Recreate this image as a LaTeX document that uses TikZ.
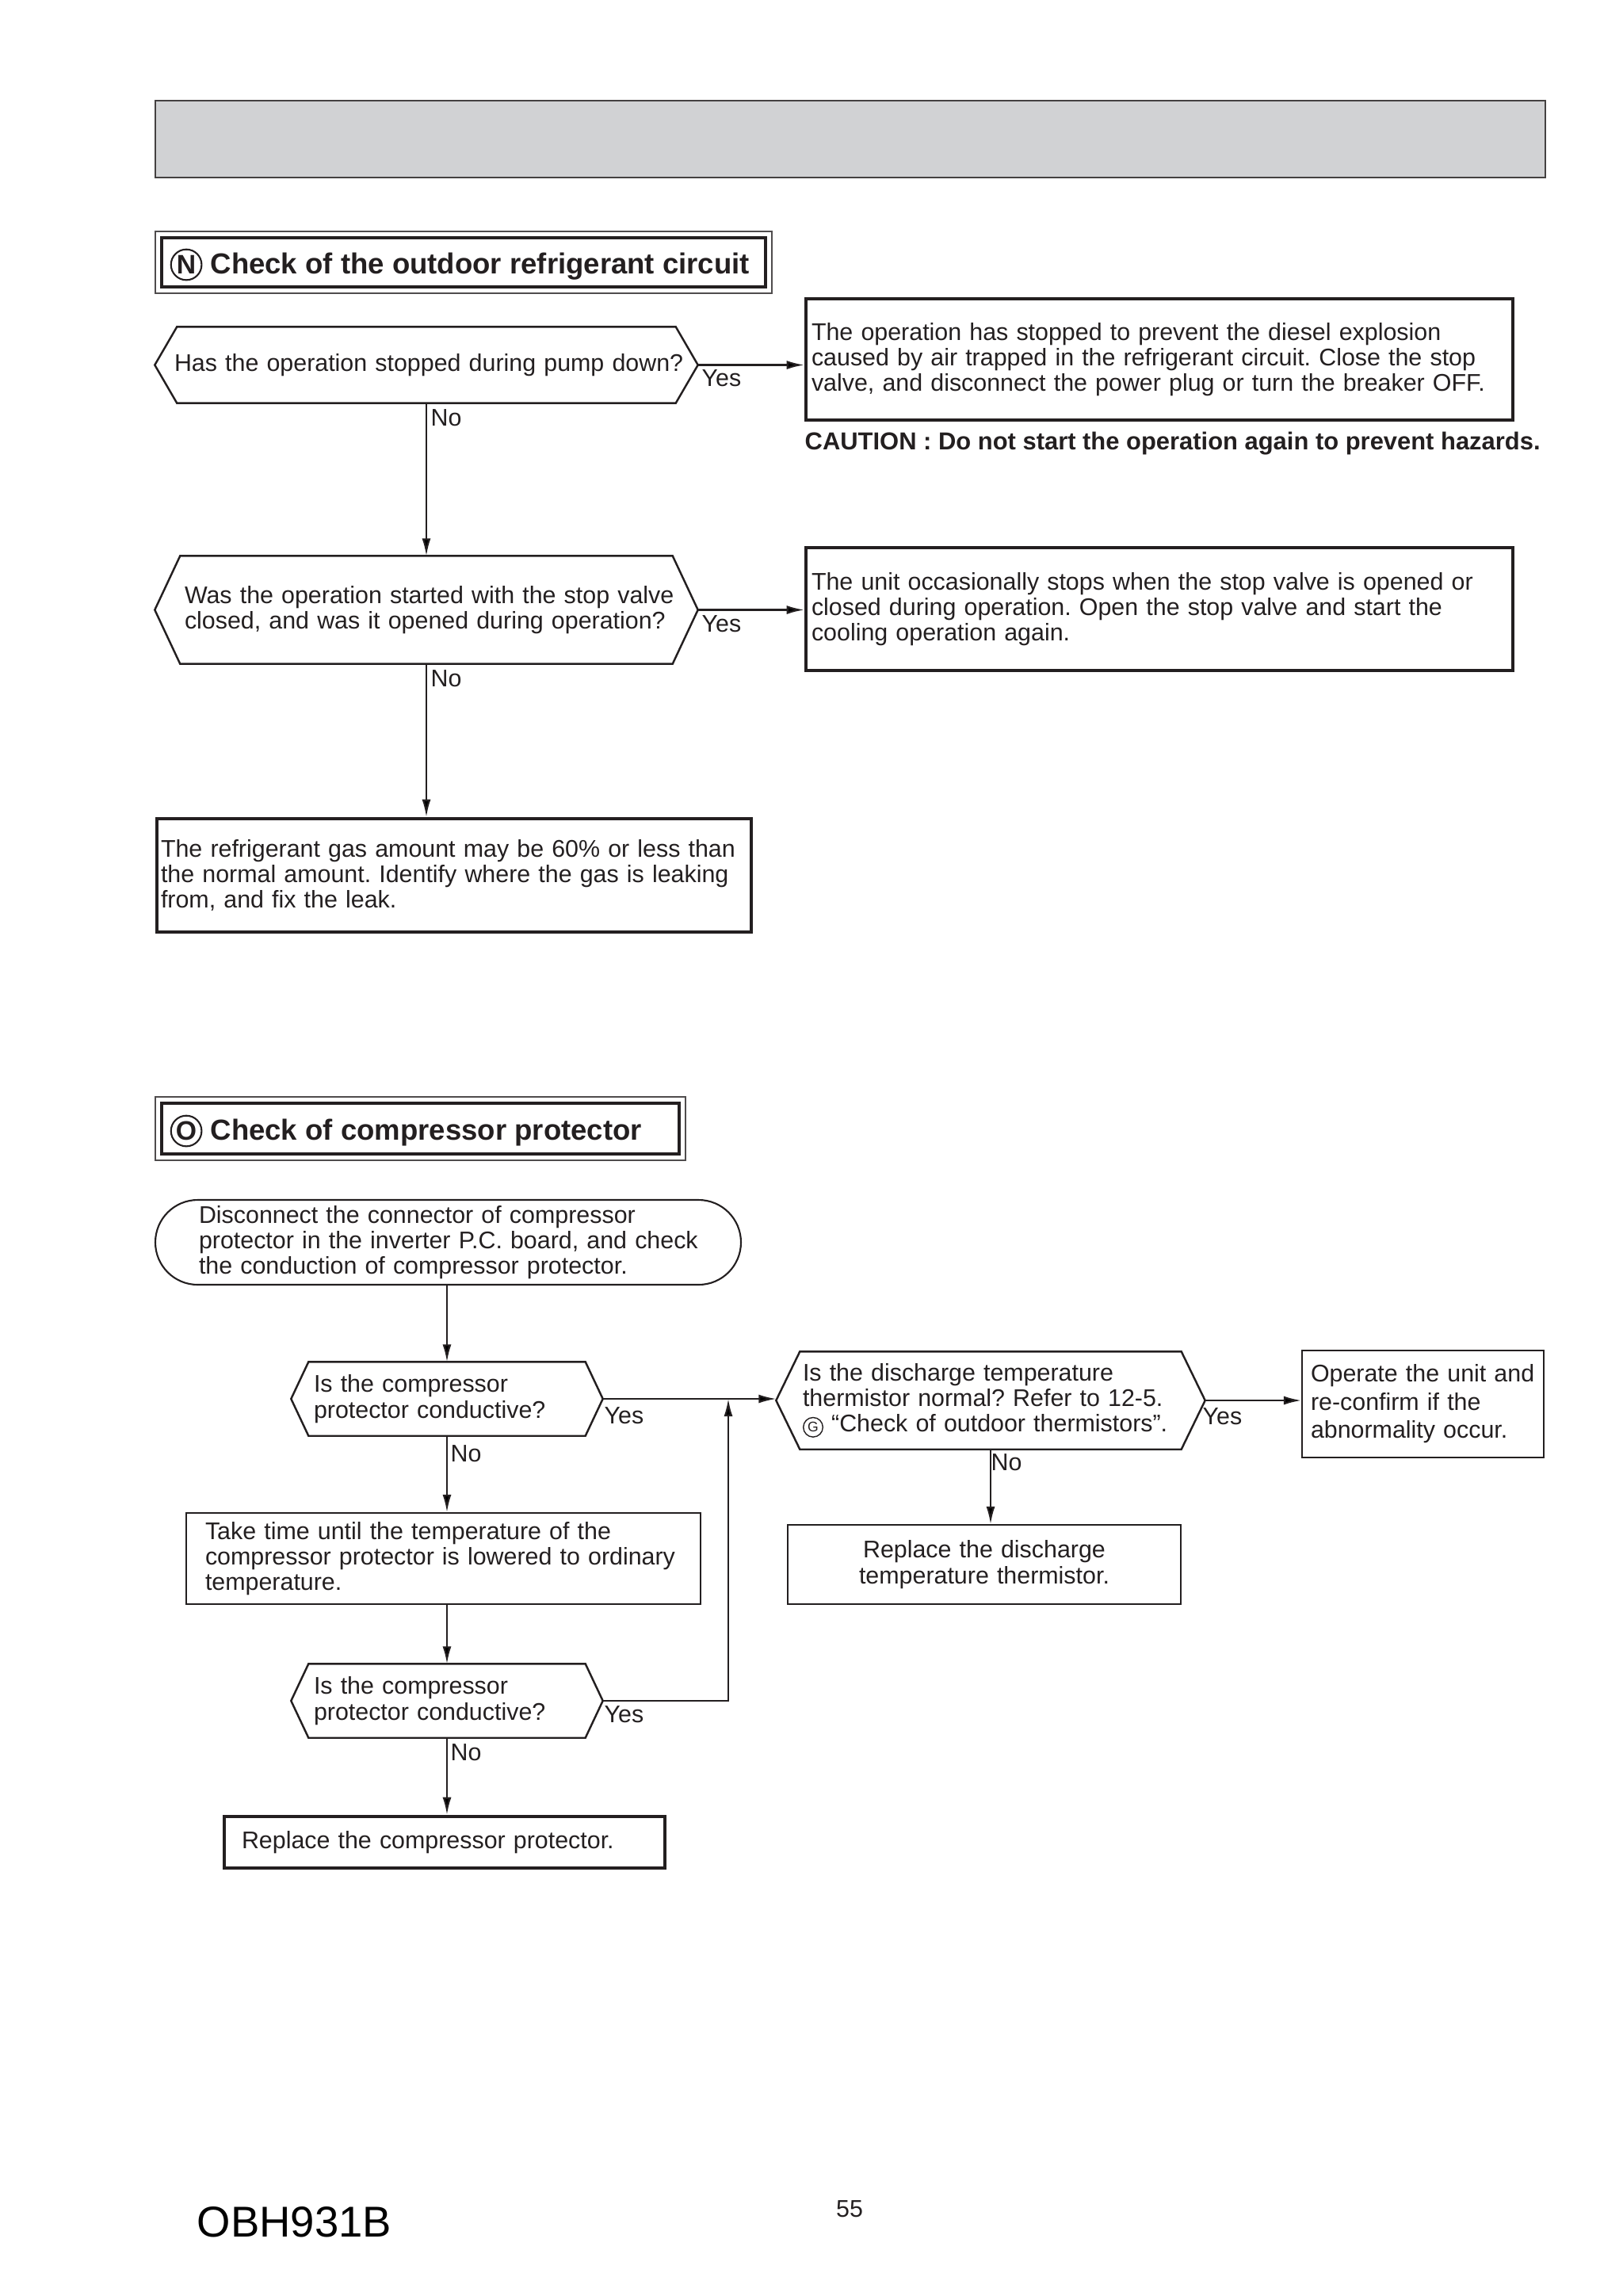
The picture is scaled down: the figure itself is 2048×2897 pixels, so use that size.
\documentclass[tikz,border=0pt]{standalone}
\usepackage{fontspec}
\setmainfont{Liberation Sans}
\usetikzlibrary{calc,arrows.meta,shapes.geometric}
\definecolor{barfill}{RGB}{209,210,212}
\definecolor{ink}{RGB}{35,31,32}
\newcommand\enclbig[1]{\tikz[baseline=(e.base)]\node[circle,draw=ink,line width=0.6pt,inner sep=0pt,minimum size=11pt,font=\fontsize{9.6}{9.6}\selectfont\bfseries](e){#1};}
\newcommand\enclsmall[1]{\tikz[baseline=(g.base)]\node[circle,draw=ink,line width=0.4pt,inner sep=0.2pt,minimum size=7pt,font=\fontsize{5}{5}\selectfont](g){#1};}
\newcommand\oneline[1]{\mbox{#1}}
\frenchspacing
\begin{document}
\begin{tikzpicture}[x=0.1mm,y=-0.1mm,
  every node/.append style={execute at begin node={\frenchspacing\hyphenpenalty=10000 }},
  txtN/.style={font=\fontsize{8.65}{9.0}\selectfont, text=ink},
  txtO/.style={font=\fontsize{8.65}{9.2}\selectfont, text=ink},
  hexbox/.style={draw=none, align=left, inner sep=0pt},
  hexline/.style={draw=ink, line width=0.7pt},
  box/.style={draw=ink, line width=0.6pt, align=left, inner sep=0pt},
  thickbox/.style={box, line width=1.3pt},
  conn/.style={draw=ink, line width=0.6pt},
  arr/.style={conn, -{Latex[length=2.2mm,width=1.1mm]}},
  lbl/.style={font=\fontsize{8.65}{10}\selectfont, text=ink, anchor=west, inner sep=0pt},
  titlebox/.style={draw=ink!80, line width=0.6pt, inner sep=0pt},
  titletext/.style={font=\fontsize{10.4}{12}\selectfont\bfseries, text=ink, anchor=west, inner sep=0pt}
]
\useasboundingbox (0,0) rectangle (2048,2897);

% header bar
\node[draw=ink!85, line width=0.8pt, fill=barfill, minimum width=175.4mm, minimum height=9.7mm, inner sep=0pt] (bar) at (1073,175.5) {};

% ---- section N ----
\node[titlebox, minimum width=77.8mm, minimum height=7.8mm] (tN) at (585,331) {};
\draw[draw=ink, line width=1pt] ($(tN.north west)+(9,9)$) rectangle ($(tN.south east)+(-9,-9)$);
\node[titletext] (tNt) at (214,334) {\enclbig{N} Check of the outdoor refrigerant circuit};

\node[hexbox, txtN, minimum width=68.4mm, minimum height=9.5mm, text width=63.6mm] (h1) at (538,460.5) {\oneline{Has the operation stopped during pump down?}};
\draw[hexline] (h1.west) -- ($(h1.north west)+(28,0)$) -- ($(h1.north east)+(-28,0)$) -- (h1.east) -- ($(h1.south east)+(-28,0)$) -- ($(h1.south west)+(28,0)$) -- cycle;

\node[thickbox, txtN, minimum width=89.2mm, minimum height=15.3mm, text width=87.8mm] (b1) at (1463,453.5) {\oneline{The operation has stopped to prevent the diesel explosion}\\\oneline{caused by air trapped in the refrigerant circuit. Close the stop}\\\oneline{valve, and disconnect the power plug or turn the breaker OFF.}};
\node[lbl, font=\fontsize{8.8}{10}\selectfont\bfseries] (cau) at (1015,560) {CAUTION : Do not start the operation again to prevent hazards.};

\node[hexbox, txtN, minimum width=68.4mm, minimum height=13.5mm, text width=61.0mm] (h2) at (538,769.5) {\oneline{Was the operation started with the stop valve}\\\oneline{closed, and was it opened during operation?}};
\draw[hexline] (h2.west) -- ($(h2.north west)+(32,0)$) -- ($(h2.north east)+(-32,0)$) -- (h2.east) -- ($(h2.south east)+(-32,0)$) -- ($(h2.south west)+(32,0)$) -- cycle;

\node[thickbox, txtN, minimum width=89.2mm, minimum height=15.5mm, text width=87.8mm] (b2) at (1463,768.5) {\oneline{The unit occasionally stops when the stop valve is opened or}\\\oneline{closed during operation. Open the stop valve and start the}\\\oneline{cooling operation again.}};

\node[thickbox, txtN, minimum width=75.0mm, minimum height=14.3mm, text width=74.0mm] (b3) at (573,1104.5) {\oneline{The refrigerant gas amount may be 60\% or less than}\\\oneline{the normal amount. Identify where the gas is leaking}\\\oneline{from, and fix the leak.}};

\draw[arr] (h1.east) -- (h1.east -| b1.west);
\draw[arr] (h1.south) -- (h2.north);
\draw[arr] (h2.east) -- (h2.east -| b2.west);
\draw[arr] (h2.south) -- (h2.south |- b3.north);
\node[lbl] (y1) at (885,477) {Yes};
\node[lbl] (n1) at (543,527) {No};
\node[lbl] (y2) at (885,787) {Yes};
\node[lbl] (n2) at (543,856) {No};

% ---- section O ----
\node[titlebox, minimum width=66.9mm, minimum height=8.0mm] (tO) at (530.5,1424) {};
\draw[draw=ink, line width=1pt] ($(tO.north west)+(9,9)$) rectangle ($(tO.south east)+(-9,-9)$);
\node[titletext] (tOt) at (214,1427) {\enclbig{O} Check of compressor protector};

\node[box, txtO, rounded corners=5.35mm, minimum width=73.9mm, minimum height=10.7mm, text width=62.9mm] (s) at (565.5,1567.5) {\oneline{Disconnect the connector of compressor}\\\oneline{protector in the inverter P.C. board, and check}\\\oneline{the conduction of compressor protector.}};

\node[hexbox, txtO, minimum width=39.2mm, minimum height=9.2mm, text width=33.6mm] (h3) at (564,1765) {\oneline{Is the compressor}\\\oneline{protector conductive?}};
\draw[hexline] (h3.west) -- ($(h3.north west)+(22,0)$) -- ($(h3.north east)+(-22,0)$) -- (h3.east) -- ($(h3.south east)+(-22,0)$) -- ($(h3.south west)+(22,0)$) -- cycle;

\node[hexbox, txtO, minimum width=54.0mm, minimum height=12.2mm, text width=47.4mm] (h4) at (1250,1767) {\oneline{Is the discharge temperature}\\\oneline{thermistor normal? Refer to 12-5.}\\\oneline{\enclsmall{G} “Check of outdoor thermistors”.}};
\draw[hexline] (h4.west) -- ($(h4.north west)+(30,0)$) -- ($(h4.north east)+(-30,0)$) -- (h4.east) -- ($(h4.south east)+(-30,0)$) -- ($(h4.south west)+(30,0)$) -- cycle;

\node[box, font=\fontsize{8.65}{10.1}\selectfont, text=ink, minimum width=30.5mm, minimum height=13.5mm, text width=28.3mm] (op) at (1795.5,1771.5) {\oneline{Operate the unit and}\\\oneline{re-confirm if the}\\\oneline{abnormality occur.}};

\node[box, txtO, align=center, minimum width=49.6mm, minimum height=10.0mm, text width=45mm] (rd) at (1242,1974) {\oneline{Replace the discharge}\\\oneline{temperature thermistor.}};

\node[box, txtO, minimum width=64.9mm, minimum height=11.5mm, text width=60.1mm] (tt) at (559.5,1966.5) {\oneline{Take time until the temperature of the}\\\oneline{compressor protector is lowered to ordinary}\\\oneline{temperature.}};

\node[hexbox, txtO, minimum width=39.2mm, minimum height=9.2mm, text width=33.6mm] (h5) at (564,2146) {\oneline{Is the compressor}\\\oneline{protector conductive?}};
\draw[hexline] (h5.west) -- ($(h5.north west)+(22,0)$) -- ($(h5.north east)+(-22,0)$) -- (h5.east) -- ($(h5.south east)+(-22,0)$) -- ($(h5.south west)+(22,0)$) -- cycle;

\node[thickbox, txtO, minimum width=55.6mm, minimum height=6.5mm, text width=51.2mm] (rc) at (561,2324.5) {\oneline{Replace the compressor protector.}};

\coordinate (j) at (919,1765);
\draw[arr] (s.south -| h3.north) -- (h3.north);
\draw[arr] (h3.east) -- (h3.east -| h4.west);
\draw[arr] (h5.east) -| (j);
\draw[arr] (h4.east) -- (h4.east -| op.west);
\draw[arr] (h4.south) -- (h4.south |- rd.north);
\draw[arr] (h3.south) -- (h3.south |- tt.north);
\draw[arr] (tt.south -| h5.north) -- (h5.north);
\draw[arr] (h5.south) -- (h5.south |- rc.north);
\node[lbl] (y3) at (762,1786) {Yes};
\node[lbl] (n3) at (568,1834) {No};
\node[lbl] (y4) at (1517,1787) {Yes};
\node[lbl] (n4) at (1250,1845) {No};
\node[lbl] (y5) at (762,2163) {Yes};
\node[lbl] (n5) at (568,2211) {No};

% footer
\node[font=\fontsize{15.5}{18}\selectfont, text=black, anchor=west, inner sep=0pt] (code) at (248,2804) {OBH931B};
\node[font=\fontsize{8.65}{10}\selectfont, text=ink, inner sep=0pt] (pg) at (1072,2787) {55};
\end{tikzpicture}
\end{document}
